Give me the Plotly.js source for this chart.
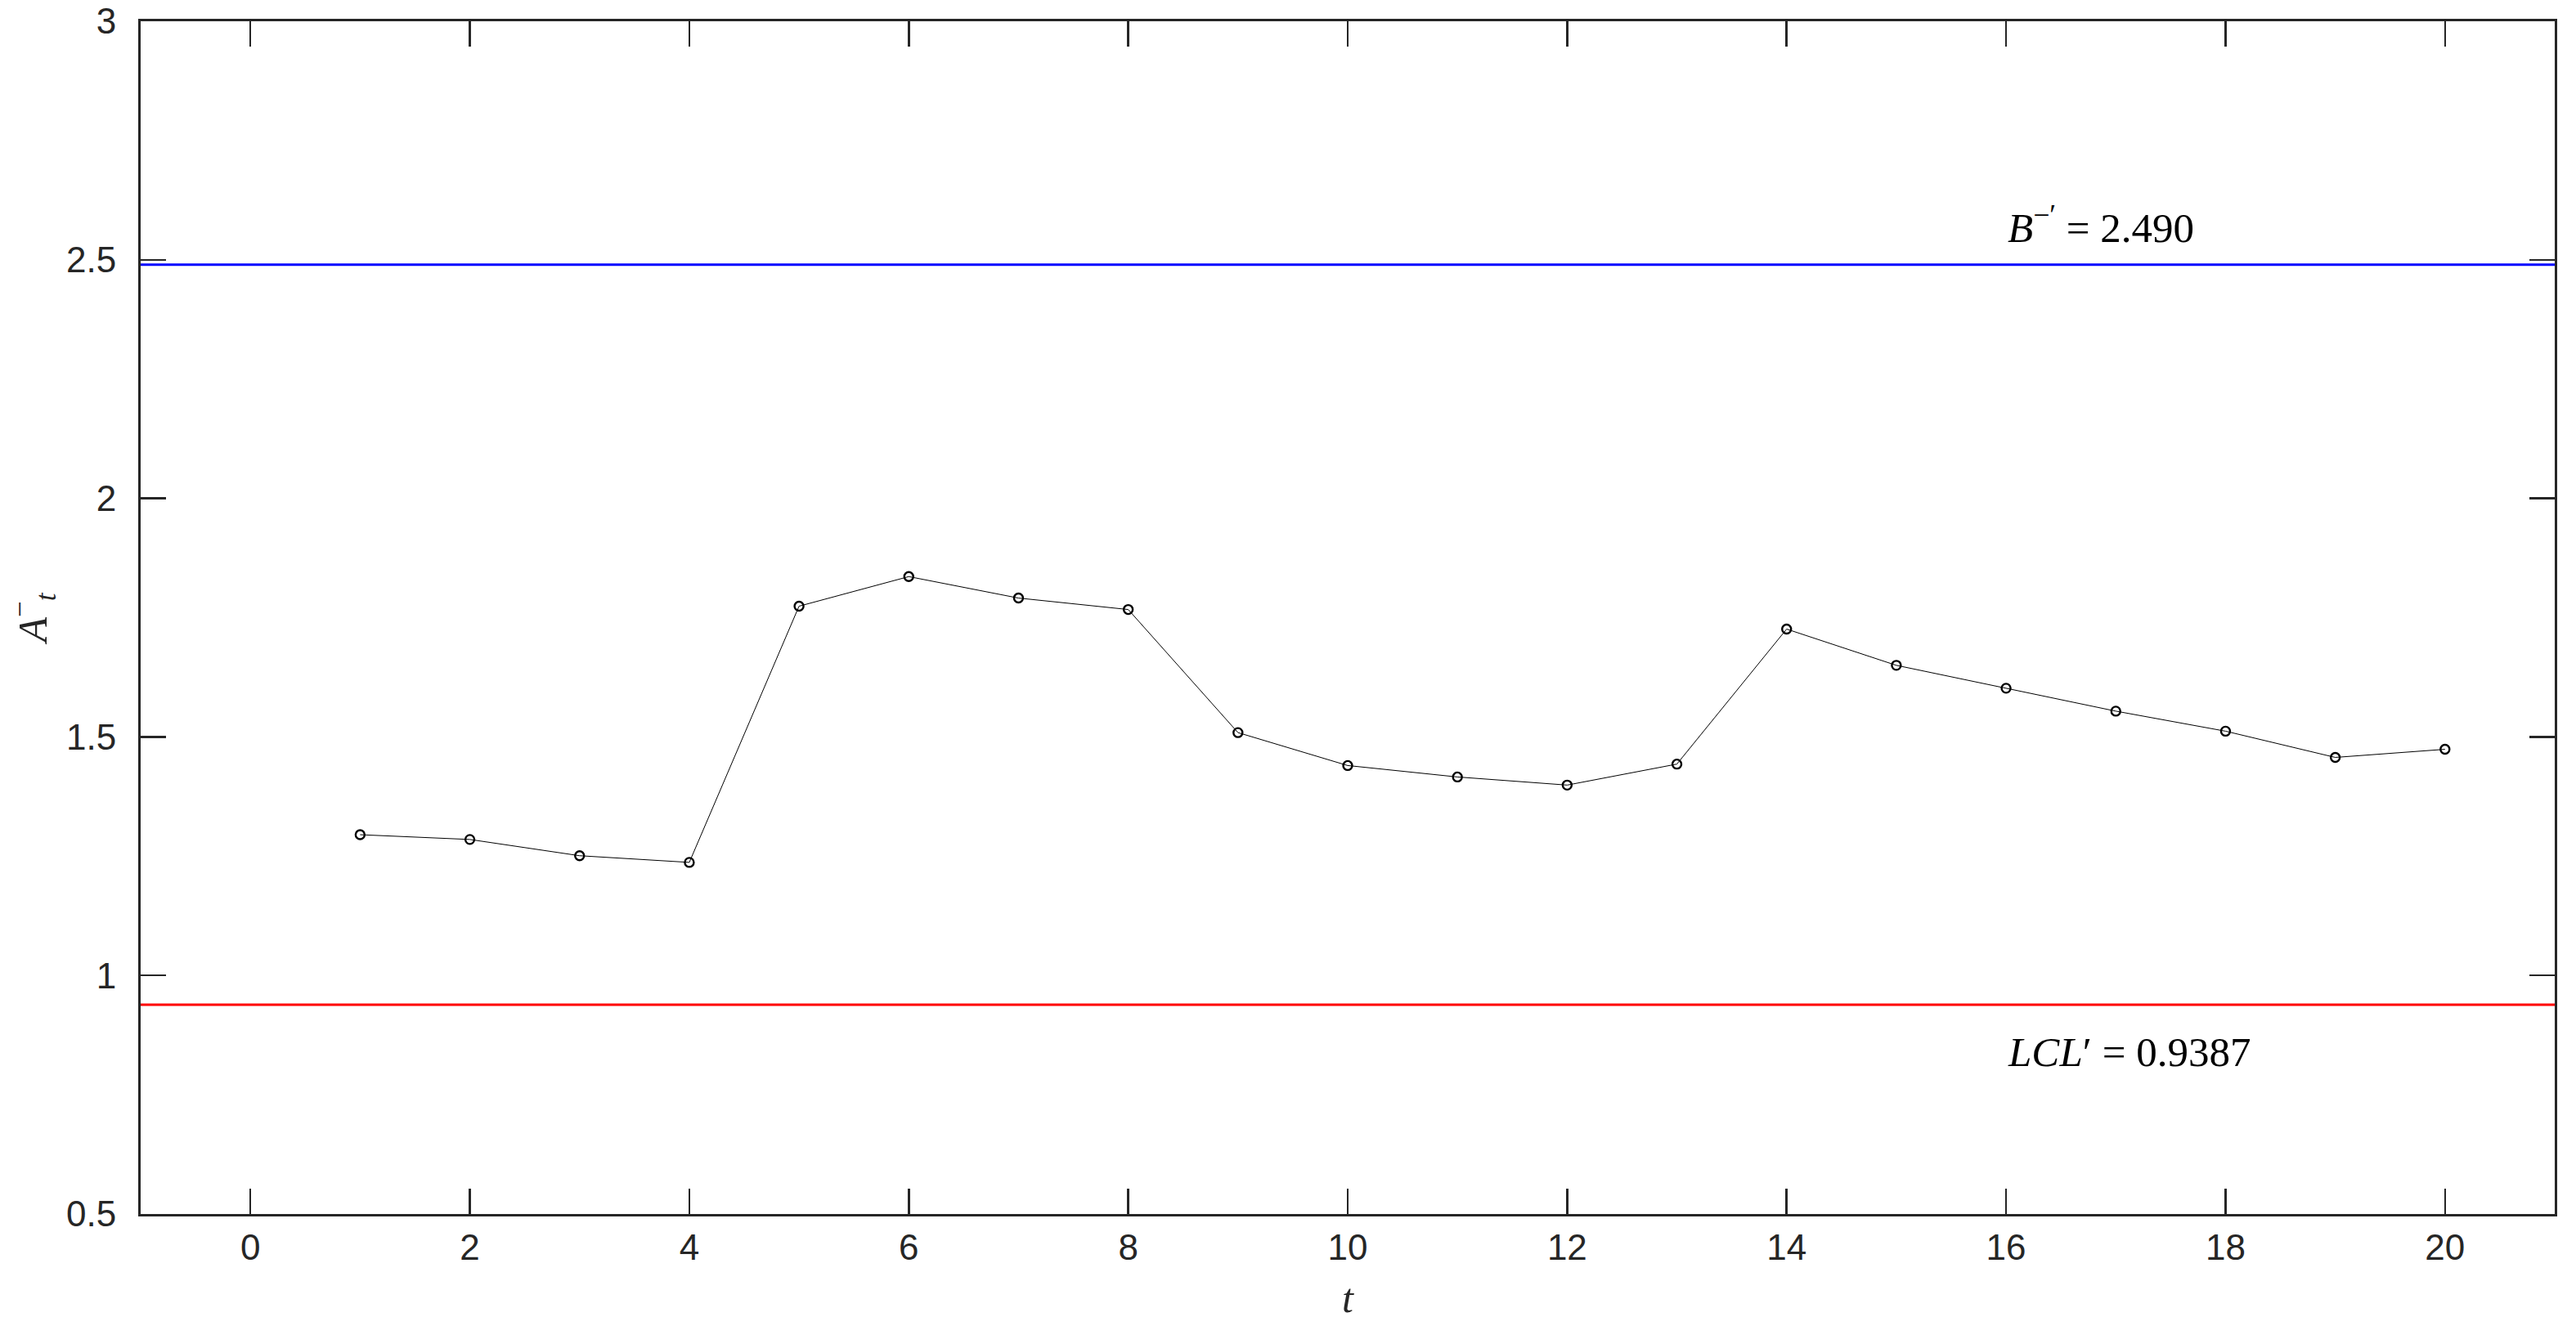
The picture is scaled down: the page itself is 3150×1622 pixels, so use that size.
<!DOCTYPE html>
<html>
<head>
<meta charset="utf-8">
<script src="https://cdn.plot.ly/plotly-3.0.1.min.js"></script>
<style>
  html, body { margin: 0; padding: 0; background: #ffffff; }
  #chart { width: 3150px; height: 1622px; }
</style>
</head>
<body>
<div id="chart"></div>
<script>
const t = [1, 2, 3, 4, 5, 6, 7, 8, 9, 10, 11, 12, 13, 14, 15, 16, 17, 18, 19, 20];
const aMinus = [1.295, 1.285, 1.251, 1.237, 1.774, 1.836, 1.791, 1.767, 1.509, 1.440,
                1.416, 1.399, 1.443, 1.726, 1.650, 1.602, 1.554, 1.512, 1.457, 1.474];
const upperLimit = 2.490;
const lowerLimit = 0.9387;
const xRange = [-1, 21];
const yRange = [0.5, 3];

const axisColor = '#262626';
const tickFont = { family: 'Liberation Sans, Arial, sans-serif', size: 44, color: axisColor };
const mathFont = { family: 'Liberation Serif, Times New Roman, serif', size: 51, color: '#000000' };

const traces = [
  {
    x: xRange, y: [upperLimit, upperLimit],
    type: 'scatter', mode: 'lines',
    line: { color: '#0000ff', width: 3 },
    hoverinfo: 'skip'
  },
  {
    x: xRange, y: [lowerLimit, lowerLimit],
    type: 'scatter', mode: 'lines',
    line: { color: '#ff0000', width: 3 },
    hoverinfo: 'skip'
  },
  {
    x: t, y: aMinus,
    type: 'scatter', mode: 'lines+markers',
    line: { color: '#000000', width: 1 },
    marker: { symbol: 'circle-open', size: 11, color: '#000000', line: { width: 2.4, color: '#000000' } }
  }
];

const layout = {
  width: 3150,
  height: 1622,
  paper_bgcolor: '#ffffff',
  plot_bgcolor: '#ffffff',
  showlegend: false,
  margin: { l: 172, r: 26, t: 26, b: 137 },
  xaxis: {
    range: xRange,
    dtick: 2, tick0: 0,
    ticks: 'inside', ticklen: 31, tickwidth: 2.5, tickcolor: axisColor,
    showline: true, linecolor: axisColor, linewidth: 3, mirror: 'ticks',
    showgrid: false, zeroline: false,
    tickfont: tickFont,
    title: { text: '<i>t</i>', font: { family: 'Liberation Serif, serif', size: 50, color: axisColor }, standoff: 22 }
  },
  yaxis: {
    range: yRange,
    dtick: 0.5, tick0: 0.5,
    ticks: 'inside', ticklen: 31, tickwidth: 2.5, tickcolor: axisColor,
    showline: true, linecolor: axisColor, linewidth: 3, mirror: 'ticks',
    showgrid: false, zeroline: false,
    tickfont: tickFont,
    ticklabelstandoff: 18,
    title: { text: '<i>A</i><sup>−</sup><sub><i>t</i></sub>', font: { family: 'Liberation Serif, serif', size: 50, color: axisColor }, standoff: 8 }
  },
  annotations: [
    {
      x: 16, y: upperLimit + 0.083, xref: 'x', yref: 'y',
      xanchor: 'left', yanchor: 'middle', showarrow: false,
      text: '<i>B</i><sup>−′</sup> = ' + upperLimit.toFixed(3),
      font: mathFont
    },
    {
      x: 16, y: lowerLimit - 0.1, xref: 'x', yref: 'y',
      xanchor: 'left', yanchor: 'middle', showarrow: false,
      text: '<i>LCL</i>′ = ' + lowerLimit.toFixed(4),
      font: mathFont
    }
  ]
};

Plotly.newPlot('chart', traces, layout, { displayModeBar: false, staticPlot: true });
</script>
</body>
</html>
